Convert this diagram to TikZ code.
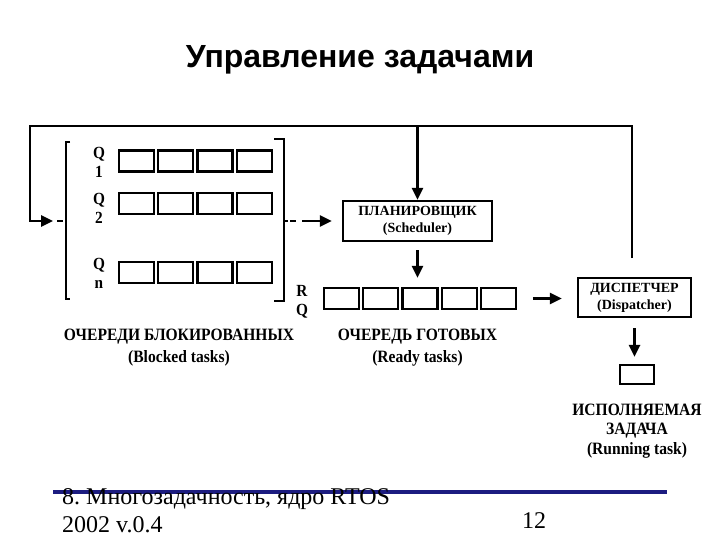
\documentclass[tikz,border=0pt]{standalone}
\usepackage{fontspec}
\setmainfont{Liberation Serif}
\newfontfamily\titlefont{Liberation Sans}
\newfontfamily\lblfont[FakeStretch=0.9]{Liberation Serif}
\usetikzlibrary{arrows.meta}
\definecolor{slidenavy}{RGB}{28,28,128}
\frenchspacing

\begin{document}
\begin{tikzpicture}[x=1pt,y=-1pt,
    cell/.style={draw,line width=2.2pt,minimum width=35pt,minimum height=21pt,inner sep=0pt},
    box/.style={draw,line width=2.2pt,inner sep=0pt,align=center,
        font=\bfseries\fontsize{14}{17}\selectfont},
    lbl/.style={inner sep=0pt,align=center,font=\lblfont\bfseries\fontsize{17.3}{22}\selectfont},
    qlbl/.style={inner sep=0pt,align=center,anchor=north,font=\lblfont\bfseries\fontsize{17}{19}\selectfont},
    arr/.style={line width=2.7pt,-{Triangle[length=12pt,width=11pt]}},
    brk/.style={line width=1.3pt}]
    \useasboundingbox (0,0) rectangle (720,540);

    % title
    \node[anchor=base,font=\titlefont\bfseries\fontsize{32}{38}\selectfont] (title) at (360,68) {Управление задачами};

    % blocked queues
    \node[cell] (q1a) at (136.5,161) {};
    \node[cell] (q1b) at (175.7,161) {};
    \node[cell] (q1c) at (214.9,161) {};
    \node[cell] (q1d) at (254.1,161) {};
    \node[cell] (q2a) at (136.5,203.5) {};
    \node[cell] (q2b) at (175.7,203.5) {};
    \node[cell] (q2c) at (214.9,203.5) {};
    \node[cell] (q2d) at (254.1,203.5) {};
    \node[cell] (qna) at (136.5,272.5) {};
    \node[cell] (qnb) at (175.7,272.5) {};
    \node[cell] (qnc) at (214.9,272.5) {};
    \node[cell] (qnd) at (254.1,272.5) {};
    \node[qlbl] (lq1) at (99,147) {Q\\1};
    \node[qlbl] (lq2) at (99,193) {Q\\2};
    \node[qlbl] (lqn) at (99,258) {Q\\n};
    \draw[brk] (70,142) -| (66,299) -- (70,299);
    \draw[brk] (274,139) -| (284,301) -- (274,301);
    \coordinate (lbr) at (66,221);
    \coordinate (rbr) at (284,221);
    \coordinate (lin) at (53,221);

    % ready queue
    \node[cell] (rqa) at (341.5,298.5) {};
    \node[cell] (rqb) at (380.7,298.5) {};
    \node[cell] (rqc) at (419.9,298.5) {};
    \node[cell] (rqd) at (459.1,298.5) {};
    \node[cell] (rqe) at (498.3,298.5) {};
    \node[qlbl] (lrq) at (302,285) {R\\Q};

    \node[box,minimum width=149pt,minimum height=40pt] (sch) at (417.5,221) {ПЛАНИРОВЩИК\\(Scheduler)};
    \node[box,minimum width=113pt,minimum height=39pt] (dsp) at (634.5,297.5) {ДИСПЕТЧЕР\\(Dispatcher)};
    \node[cell,minimum width=34pt,minimum height=19pt] (run) at (637,374.5) {};

    \node[lbl,anchor=north] (lblk) at (179,328.5) {ОЧЕРЕДИ БЛОКИРОВАННЫХ\\(Blocked tasks)};
    \node[lbl,anchor=north] (lrdy) at (417.5,328.5) {ОЧЕРЕДЬ ГОТОВЫХ\\(Ready tasks)};
    \node[lbl,anchor=north,font=\lblfont\bfseries\fontsize{17.3}{19.5}\selectfont] (lrun) at (637,403.5) {ИСПОЛНЯЕМАЯ\\ЗАДАЧА\\(Running task)};

    % connectors
    \coordinate (topL) at (30,126);
    \coordinate (dtop) at (632,258);
    \draw[arr] (dtop) |- (topL) |- (lin);
    \draw[brk,dash pattern=on 6pt off 2pt] (57,221) -- (lbr);
    \draw[arr] (sch.north |- topL) -- (sch.north);
    \draw[arr,shorten >=10pt,dash pattern=on 4pt off 2pt on 6pt off 6pt on 80pt] (rbr) -- (sch.west);
    \draw[arr,shorten <=8pt,shorten >=9pt] (sch.south) -- (sch.south |- rqc.north);
    \draw[arr,shorten <=16pt,shorten >=15pt] (rqe.east) -- (rqe.east -| dsp.west);
    \draw[arr,shorten <=10pt,shorten >=7pt] (dsp.south) -- (dsp.south |- run.north);

    % footer
    \draw[line width=4pt,slidenavy] (53,492) -- (667,492);
    \node[anchor=north west,inner sep=0pt,align=left,font=\fontsize{24}{28}\selectfont] (foot) at (62,488.8) {8. Многозадачность, ядро RTOS\\2002 v.0.4};
    \node[anchor=base west,inner sep=0pt,font=\fontsize{24}{28}\selectfont] (page) at (522,528) {12};
\end{tikzpicture}
\end{document}
